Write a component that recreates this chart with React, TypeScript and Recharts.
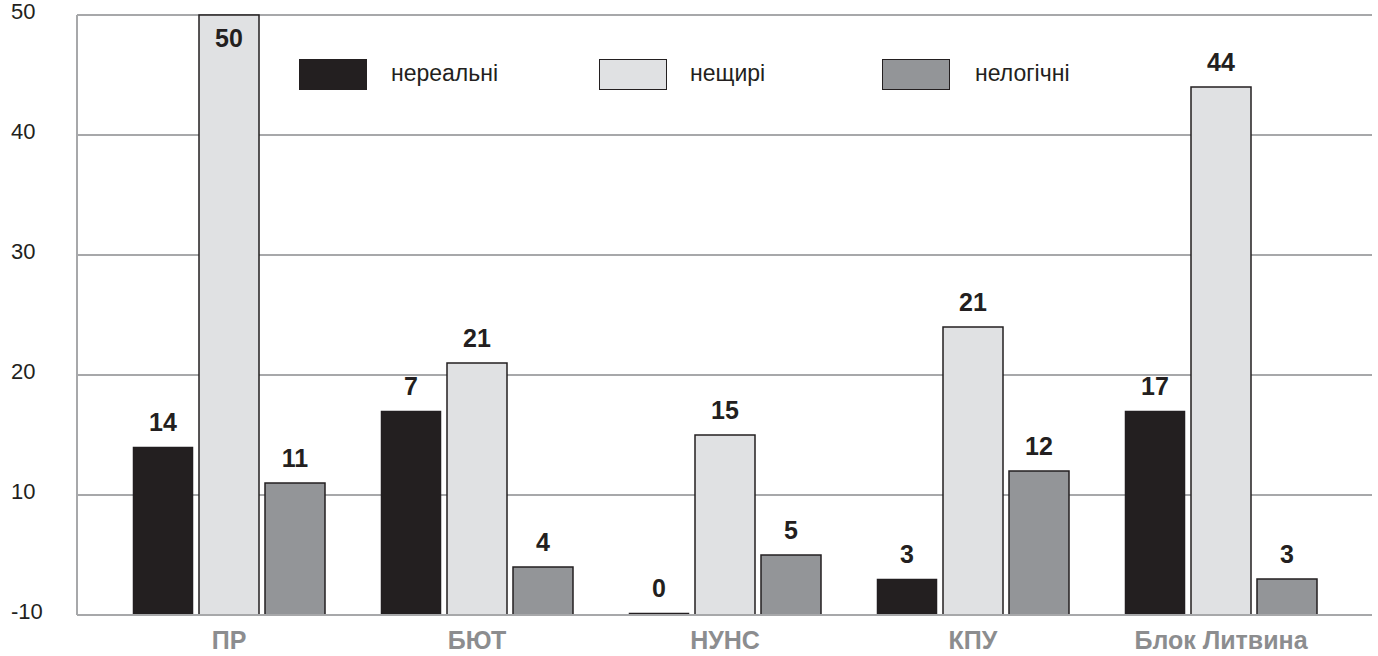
import React from "react";
import { BarChart, Bar, XAxis, YAxis, CartesianGrid, Legend, LabelList } from "recharts";

const categories = ["ПР", "БЮТ", "НУНС", "КПУ", "Блок Литвина"];
const seriesNames = ["нереальні", "нещирі", "нелогічні"];
// bar heights as drawn
const unrealValues = [14, 17, 0, 3, 17];
const insincereValues = [50, 21, 15, 24, 44];
const illogicalValues = [11, 4, 5, 12, 3];
// numbers printed above the bars
const unrealLabels = ["14", "7", "0", "3", "17"];
const insincereLabels = ["50", "21", "15", "21", "44"];
const illogicalLabels = ["11", "4", "5", "12", "3"];
const yTicks = [0, 10, 20, 30, 40, 50];
const yTickLabels = ["-10", "10", "20", "30", "40", "50"];

const colors = ["#231f20", "#e0e1e3", "#939598"];
const FONT = "'Liberation Sans', Arial, Helvetica, sans-serif";

const data = categories.map((c, i) => ({
  name: c,
  a: unrealValues[i],
  b: insincereValues[i],
  c: illogicalValues[i],
}));

const labelSets = [unrealLabels, insincereLabels, illogicalLabels];

const BarShape = (props: any) => {
  const { x, y, width, height, fill, isBlack } = props;
  const h = Math.max(0, height || 0);
  return (
    <rect
      x={x}
      y={y}
      width={width}
      height={h}
      fill={fill}
      stroke="#231f20"
      strokeWidth={isBlack ? 0.5 : 1.5}
    />
  );
};

const makeLabel = (set: string[]) => (props: any) => {
  const { x, y, width, height, index } = props;
  const top = Math.min(y, y + (height || 0));
  let cy = top - 25;
  if (cy < 22) cy = top + 23;
  return (
    <text
      x={x + width / 2}
      y={cy}
      textAnchor="middle"
      dominantBaseline="central"
      fontFamily={FONT}
      fontWeight="bold"
      fontSize={25}
      fill="#231f20"
    >
      {set[index]}
    </text>
  );
};

const YTick = (props: any) => {
  const { y, payload } = props;
  const idx = yTicks.indexOf(payload.value);
  return (
    <text x={11} y={y - 4} textAnchor="start" dominantBaseline="central" fontFamily={FONT} fontSize={22} fill="#231f20">
      {yTickLabels[idx]}
    </text>
  );
};

const XTick = (props: any) => {
  const { x, y, payload } = props;
  return (
    <text x={x} y={y + 17} textAnchor="middle" dominantBaseline="central" fontFamily={FONT} fontWeight="bold" fontSize={25} fill="#8c8d8f">
      {payload.value}
    </text>
  );
};

const legendPos = [
  { sx: 299, tx: 391 },
  { sx: 599, tx: 690 },
  { sx: 882, tx: 975 },
];

const LegendContent = () => (
  <div style={{ position: "relative", width: 1378, height: 0 }}>
    {seriesNames.map((n, i) => (
      <React.Fragment key={n}>
        <div
          style={{
            position: "absolute",
            left: legendPos[i].sx,
            top: 59,
            width: 68,
            height: 31,
            boxSizing: "border-box",
            background: colors[i],
            border: "1.5px solid #231f20",
          }}
        />
        <div
          style={{
            position: "absolute",
            left: legendPos[i].tx,
            top: 59,
            height: 28,
            lineHeight: "28px",
            fontFamily: FONT,
            fontSize: 23,
            color: "#231f20",
            whiteSpace: "nowrap",
          }}
        >
          {n}
        </div>
      </React.Fragment>
    ))}
  </div>
);

const zeroLine = (value: any) => (Number(value) === 0 ? 2 : 0);

export default function App() {
  return (
    <div style={{ position: "absolute", left: 0, top: 0, width: 1378, height: 656, background: "#fff" }}>
      <BarChart
        width={1378}
        height={656}
        data={data}
        margin={{ top: 15, right: 6, left: 0, bottom: 11 }}
        barSize={60}
        barGap={6}
      >
        <CartesianGrid vertical={false} stroke="#a7a8aa" strokeWidth={2} />
        <XAxis
          dataKey="name"
          height={30}
          axisLine={{ stroke: "#a7a8aa", strokeWidth: 2 }}
          tickLine={false}
          tick={<XTick />}
          padding={{ left: 28, right: 27 }}
          interval={0}
        />
        <YAxis
          domain={[0, 50]}
          ticks={yTicks}
          width={77}
          axisLine={{ stroke: "#a7a8aa", strokeWidth: 2 }}
          tickLine={false}
          tick={<YTick />}
          interval={0}
        />
        <Legend content={<LegendContent />} wrapperStyle={{ position: "absolute", left: 0, top: 0, width: 1378, height: 0 }} verticalAlign="top" height={0} />
        <Bar dataKey="a" name={seriesNames[0]} fill={colors[0]} minPointSize={zeroLine} isAnimationActive={false} shape={(p: any) => <BarShape {...p} isBlack />}>
          <LabelList dataKey="a" content={makeLabel(labelSets[0])} />
        </Bar>
        <Bar dataKey="b" name={seriesNames[1]} fill={colors[1]} isAnimationActive={false} shape={(p: any) => <BarShape {...p} />}>
          <LabelList dataKey="b" content={makeLabel(labelSets[1])} />
        </Bar>
        <Bar dataKey="c" name={seriesNames[2]} fill={colors[2]} isAnimationActive={false} shape={(p: any) => <BarShape {...p} />}>
          <LabelList dataKey="c" content={makeLabel(labelSets[2])} />
        </Bar>
      </BarChart>
    </div>
  );
}
